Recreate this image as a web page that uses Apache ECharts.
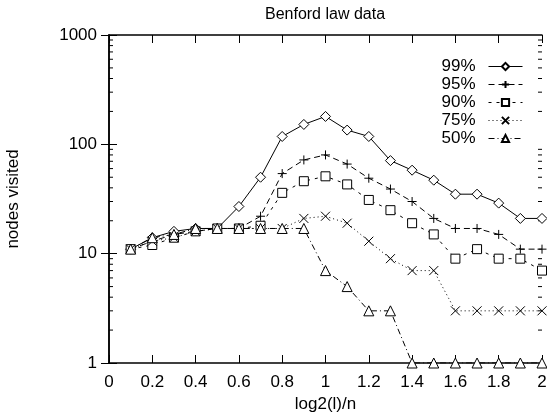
<!DOCTYPE html>
<html>
<head>
<meta charset="utf-8">
<script src="https://cdn.jsdelivr.net/npm/echarts@6/dist/echarts.min.js"></script>
<style>
html,body{margin:0;padding:0;background:#fff;}
#chartsDiv{width:547px;height:412px;}
</style>
</head>
<body>
<div id="chartsDiv"></div>
<script>
var xVals = [0.1,0.2,0.3,0.4,0.5,0.6,0.7,0.8,0.9,1.0,1.1,1.2,1.3,1.4,1.5,1.6,1.7,1.8,1.9,2.0];
var s99 = [11,14,16,17,17,27,50,118,152,180,135,118,71,58,47,35,35,29,21,21];
var s95 = [11,13,15,16,17,17,22,54,72,80,66,49,39,30,21,17,17,15,11,11];
var s90 = [11,12,14,16,17,17,18,36,46,51,43,31,25,19,15,9,11,9,9,7];
var s75 = [11,13,14,16,17,17,17,17,21,22,19,13,9,7,7,3,3,3,3,3];
var s50 = [11,14,15,17,17,17,17,17,17,7,5,3,3,1,1,1,1,1,1,1];
var seriesNames = ['99%','95%','90%','75%','50%'];
var minorTicks = [2,3,4,5,6,7,8,9,20,30,40,50,60,70,80,90,200,300,400,500,600,700,800,900];

var font = 'Liberation Sans, Arial, sans-serif';
var plusPath = 'path://M0,5L10,5M5,0L5,10';
var crossPath = 'path://M0,0L10,10M10,0L0,10';

function pairs(arr){
	var out = [];
	for (var i = 0; i < arr.length; i++) out.push([xVals[i], arr[i]]);
	return out;
}

function lineSeries(name, arr, symbol, size, dash){
	return {
		name: name,
		type: 'line',
		data: pairs(arr),
		symbol: symbol,
		symbolSize: size,
		showAllSymbol: true,
		animation: false,
		lineStyle: {color: '#000', width: 1, type: dash},
		itemStyle: {color: '#fff', borderColor: '#000', borderWidth: 1},
		emphasis: {disabled: true}
	};
}

var chart = echarts.init(document.getElementById('chartsDiv'));

var axisCommonX = {
	type: 'value', min: 0, max: 2, interval: 0.2,
	axisLine: {show: true, onZero: false, lineStyle: {color: '#000', width: 1.5}},
	axisTick: {show: true, inside: true, length: 8, lineStyle: {color: '#000', width: 1}},
	splitLine: {show: false}
};
var axisCommonY = {
	type: 'log', logBase: 10, min: 1, max: 1000,
	axisLine: {show: true, lineStyle: {color: '#000', width: 1.5}},
	axisTick: {show: true, inside: true, length: 8, lineStyle: {color: '#000', width: 1}},
	splitLine: {show: false}
};

var option = {
	backgroundColor: '#fff',
	animation: false,
	title: {
		text: 'Benford law data',
		left: 320, top: 2, textAlign: 'center',
		textStyle: {fontFamily: font, fontSize: 16, fontWeight: 'normal', color: '#000'}
	},
	grid: {left: 109, right: 5, top: 35, bottom: 49, outerBoundsMode: 'none', containLabel: false},
	legend: {
		data: seriesNames,
		orient: 'vertical',
		align: 'right',
		right: 19, top: 53,
		itemWidth: 34, itemHeight: 9,
		itemGap: 1,
		lineStyle: {width: 1},
		textStyle: {fontFamily: font, fontSize: 17, color: '#000', padding: [0, 8, 0, 0]}
	},
	xAxis: [
		echarts.util.merge({
			position: 'bottom',
			name: 'log2(l)/n', nameLocation: 'middle', nameGap: 30,
			nameTextStyle: {fontFamily: font, fontSize: 17, color: '#000'},
			axisLabel: {show: true, margin: 11, fontFamily: font, fontSize: 17, color: '#000',
				formatter: function(v){ return String(Math.round(v*10)/10); }}
		}, axisCommonX, true),
		echarts.util.merge({position: 'top', axisLabel: {show: false}}, axisCommonX, true)
	],
	yAxis: [
		echarts.util.merge({
			position: 'left',
			name: 'nodes visited', nameLocation: 'middle', nameGap: 87, nameRotate: 90,
			nameTextStyle: {fontFamily: font, fontSize: 17, color: '#000'},
			axisLabel: {show: true, margin: 12, fontFamily: font, fontSize: 17, color: '#000',
				formatter: function(v){ return String(v); }}
		}, axisCommonY, true),
		echarts.util.merge({position: 'right', axisLabel: {show: false}}, axisCommonY, true)
	],
	series: [
		lineSeries('99%', s99, 'diamond', 10, 'solid'),
		lineSeries('95%', s95, plusPath, 9, [6, 4]),
		lineSeries('90%', s90, 'rect', 9, [3, 5]),
		lineSeries('75%', s75, crossPath, 9, [1, 3]),
		lineSeries('50%', s50, 'triangle', 10, [6, 3, 1, 3]),
		{
			// minor log ticks on left and right
			type: 'custom',
			silent: true,
			clip: false,
			animation: false,
			data: minorTicks,
			renderItem: function(params, api){
				var v = api.value(0);
				var l = api.coord([0, v]);
				var r = api.coord([2, v]);
				return {
					type: 'group',
					children: [
						{type: 'line', shape: {x1: l[0], y1: l[1], x2: l[0] + 4, y2: l[1]}, style: {stroke: '#000', lineWidth: 1}},
						{type: 'line', shape: {x1: r[0] - 4, y1: r[1], x2: r[0], y2: r[1]}, style: {stroke: '#000', lineWidth: 1}}
					]
				};
			},
			encode: {y: 0}
		}
	]
};
chart.setOption(option);
</script>
</body>
</html>
